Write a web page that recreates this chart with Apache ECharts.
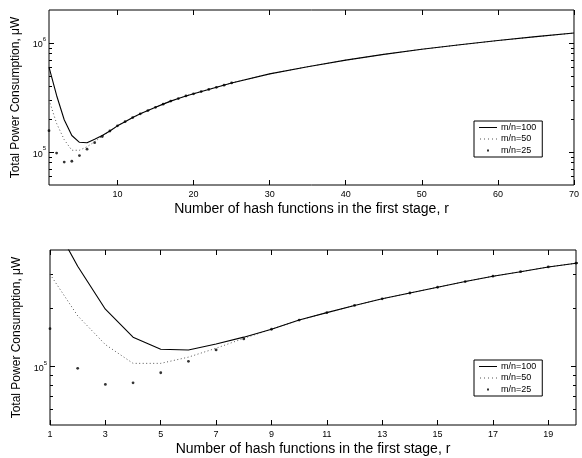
<!DOCTYPE html>
<html><head><meta charset="utf-8">
<script src="https://cdn.jsdelivr.net/npm/echarts@6/dist/echarts.min.js"></script>
<style>html,body{margin:0;padding:0;background:#fff}#c{width:582px;height:458px}</style>
</head><body><div id="c"></div>
<script>
// ---- data ----
const rValues = [1,2,3,4,5,6,7,8,9,10,11,12,13,14,15,16,17,18,19,20,25,30,35,40,45,50,55,60,65,70];
const power100 = [6.0e5,3.3e5,1.98e5,1.42e5,1.23e5,1.22e5,1.31e5,1.42e5,1.56e5,1.74e5,1.90e5,2.07e5,2.24e5,2.40e5,2.57e5,2.75e5,2.93e5,3.09e5,3.27e5,3.42e5,4.3e5,5.2e5,6.05e5,6.95e5,7.85e5,8.75e5,9.6e5,1.05e6,1.14e6,1.23e6];
const power50 = [3.0e5,1.83e5,1.3e5,1.04e5,1.04e5,1.12e5,1.245e5,1.40e5,1.56e5,1.74e5,1.90e5,2.07e5,2.24e5,2.40e5,2.57e5,2.75e5,2.93e5,3.09e5,3.27e5,3.42e5,4.3e5,5.2e5,6.05e5,6.95e5,7.85e5,8.75e5,9.6e5,1.05e6,1.14e6,1.23e6];
const rDots = [1,2,3,4,5,6,7,8,9,10,11,12,13,14,15,16,17,18,19,20,21,22,23,24,25];
const power25 = [1.57e5,9.8e4,8.1e4,8.25e4,9.3e4,1.065e5,1.22e5,1.39e5,1.56e5,1.74e5,1.90e5,2.07e5,2.24e5,2.40e5,2.57e5,2.75e5,2.93e5,3.09e5,3.27e5,3.42e5,3.58e5,3.75e5,3.92e5,4.1e5,4.3e5];
const seriesNames = ['m/n=100','m/n=50','m/n=25'];
const topXTicks = [10,20,30,40,50,60,70];
const bottomXTicks = [1,3,5,7,9,11,13,15,17,19];
const topMajorY = [1e5,1e6];
const topMinorY = [6e4,7e4,8e4,9e4,2e5,3e5,4e5,5e5,6e5,7e5,8e5,9e5];
const bottomMajorY = [1e5];
const bottomMinorY = [6e4,7e4,8e4,9e4,2e5,3e5];
const xTitle = 'Number of hash functions in the first stage, r';
const yTitle = 'Total Power Consumption, \u03bcW';

const FONT = "'Liberation Sans', Arial, Helvetica, sans-serif";
const pts = (xs, ys) => xs.map((x, i) => [x, ys[i]]);

function xAxes(grid, min, max, ticks) {
  const base = {
    type: 'value', gridIndex: grid, min, max, splitLine: {show: false},
    axisLine: {show: false}
  };
  return [
    Object.assign({}, base, {
      position: 'bottom',
      axisTick: {inside: true, length: 5, lineStyle: {color: '#000'}, customValues: ticks},
      axisLabel: {customValues: ticks, fontSize: 9, fontFamily: FONT, color: '#000', margin: 5},
      name: xTitle, nameLocation: 'middle', nameGap: 17,
      nameTextStyle: {fontSize: 14, fontFamily: FONT, color: '#000'}
    }),
    Object.assign({}, base, {
      position: 'top',
      axisTick: {inside: true, length: 5, lineStyle: {color: '#000'}, customValues: ticks},
      axisLabel: {show: false}
    })
  ];
}
function yAxes(grid, min, max, major, minor) {
  const base = {
    type: 'log', logBase: 10, gridIndex: grid, min, max, splitLine: {show: false},
    axisLine: {show: false}, minorTick: {show: false}
  };
  const fmt = v => '{b|10}{s|' + Math.round(Math.log10(v)) + '}';
  return [
    Object.assign({}, base, {
      position: 'left',
      axisTick: {inside: true, length: 5, lineStyle: {color: '#000'}, customValues: major},
      axisLabel: {customValues: major, formatter: fmt, margin: 3,
        rich: {
          b: {fontSize: 9, fontFamily: FONT, color: '#000', verticalAlign: 'bottom', lineHeight: 13},
          s: {fontSize: 6, fontFamily: FONT, color: '#000', verticalAlign: 'top', lineHeight: 13}
        }},
      name: yTitle, nameLocation: 'middle', nameGap: 23,
      nameTextStyle: {fontSize: 12, fontFamily: FONT, color: '#000'}
    }),
    Object.assign({}, base, {
      position: 'right',
      axisTick: {inside: true, length: 5, lineStyle: {color: '#000'}, customValues: major},
      axisLabel: {show: false}
    }),
    Object.assign({}, base, {
      position: 'left',
      axisTick: {inside: true, length: 3, lineStyle: {color: '#000'}, customValues: minor},
      axisLabel: {show: false}
    }),
    Object.assign({}, base, {
      position: 'right',
      axisTick: {inside: true, length: 3, lineStyle: {color: '#000'}, customValues: minor},
      axisLabel: {show: false}
    })
  ];
}

function seriesFor(xi, yi) {
  return [
    {name: seriesNames[0], type: 'line', xAxisIndex: xi, yAxisIndex: yi, data: pts(rValues, power100),
     symbol: 'none', color: '#000', lineStyle: {color: '#000', width: 1.1}, silent: true, animation: false, z: 3},
    {name: seriesNames[1], type: 'line', xAxisIndex: xi, yAxisIndex: yi, data: pts(rValues, power50),
     symbol: 'none', color: '#555', lineStyle: {color: '#555', width: 1, type: [1, 2.5]}, silent: true, animation: false, z: 2},
    {name: seriesNames[2], type: 'scatter', xAxisIndex: xi, yAxisIndex: yi, data: pts(rDots, power25),
     symbol: 'circle', symbolSize: 2.8, color: '#000', itemStyle: {color: '#000'}, silent: true, animation: false, z: 4}
  ];
}

const icons = [
  'path://M0,0M18,8M0,3.5h18v1h-18z',
  'path://M0,0M18,8M1,3.6h1v0.9h-1zM5,3.6h1v0.9h-1zM9,3.6h1v0.9h-1zM13,3.6h1v0.9h-1zM17,3.6h1v0.9h-1z',
  'path://M0,0M18,8M8,3h2v2h-2z'
];
function legendAt(top) {
  return {
    orient: 'vertical', left: 474, top: top, selectedMode: false,
    padding: [2, 6, 2, 5], itemGap: 2.5, itemWidth: 18, itemHeight: 8,
    borderColor: '#000', borderWidth: 1, backgroundColor: '#fff',
    itemStyle: {borderWidth: 0},
    textStyle: {fontSize: 9, fontFamily: FONT, color: '#000', padding: [0, 0, 0, -1]},
    data: seriesNames.map((n, i) => ({name: n, icon: icons[i]}))
  };
}

const chart = echarts.init(document.getElementById('c'), null, {renderer: 'canvas'});
chart.setOption({
  animation: false,
  backgroundColor: '#fff',
  grid: [
    {left: 49, top: 10, width: 527, height: 175, show: true, borderColor: '#000', borderWidth: 1, backgroundColor: 'transparent'},
    {left: 50, top: 250, width: 526, height: 175, show: true, borderColor: '#000', borderWidth: 1, backgroundColor: 'transparent'}
  ],
  xAxis: [].concat(xAxes(0, 1, 70, topXTicks), xAxes(1, 1, 20, bottomXTicks)),
  yAxis: [].concat(yAxes(0, 5e4, 2e6, topMajorY, topMinorY), yAxes(1, 5e4, 4e5, bottomMajorY, bottomMinorY)),
  legend: [legendAt(121), legendAt(360)],
  series: [].concat(seriesFor(0, 0), seriesFor(2, 4))
});
</script></body></html>
